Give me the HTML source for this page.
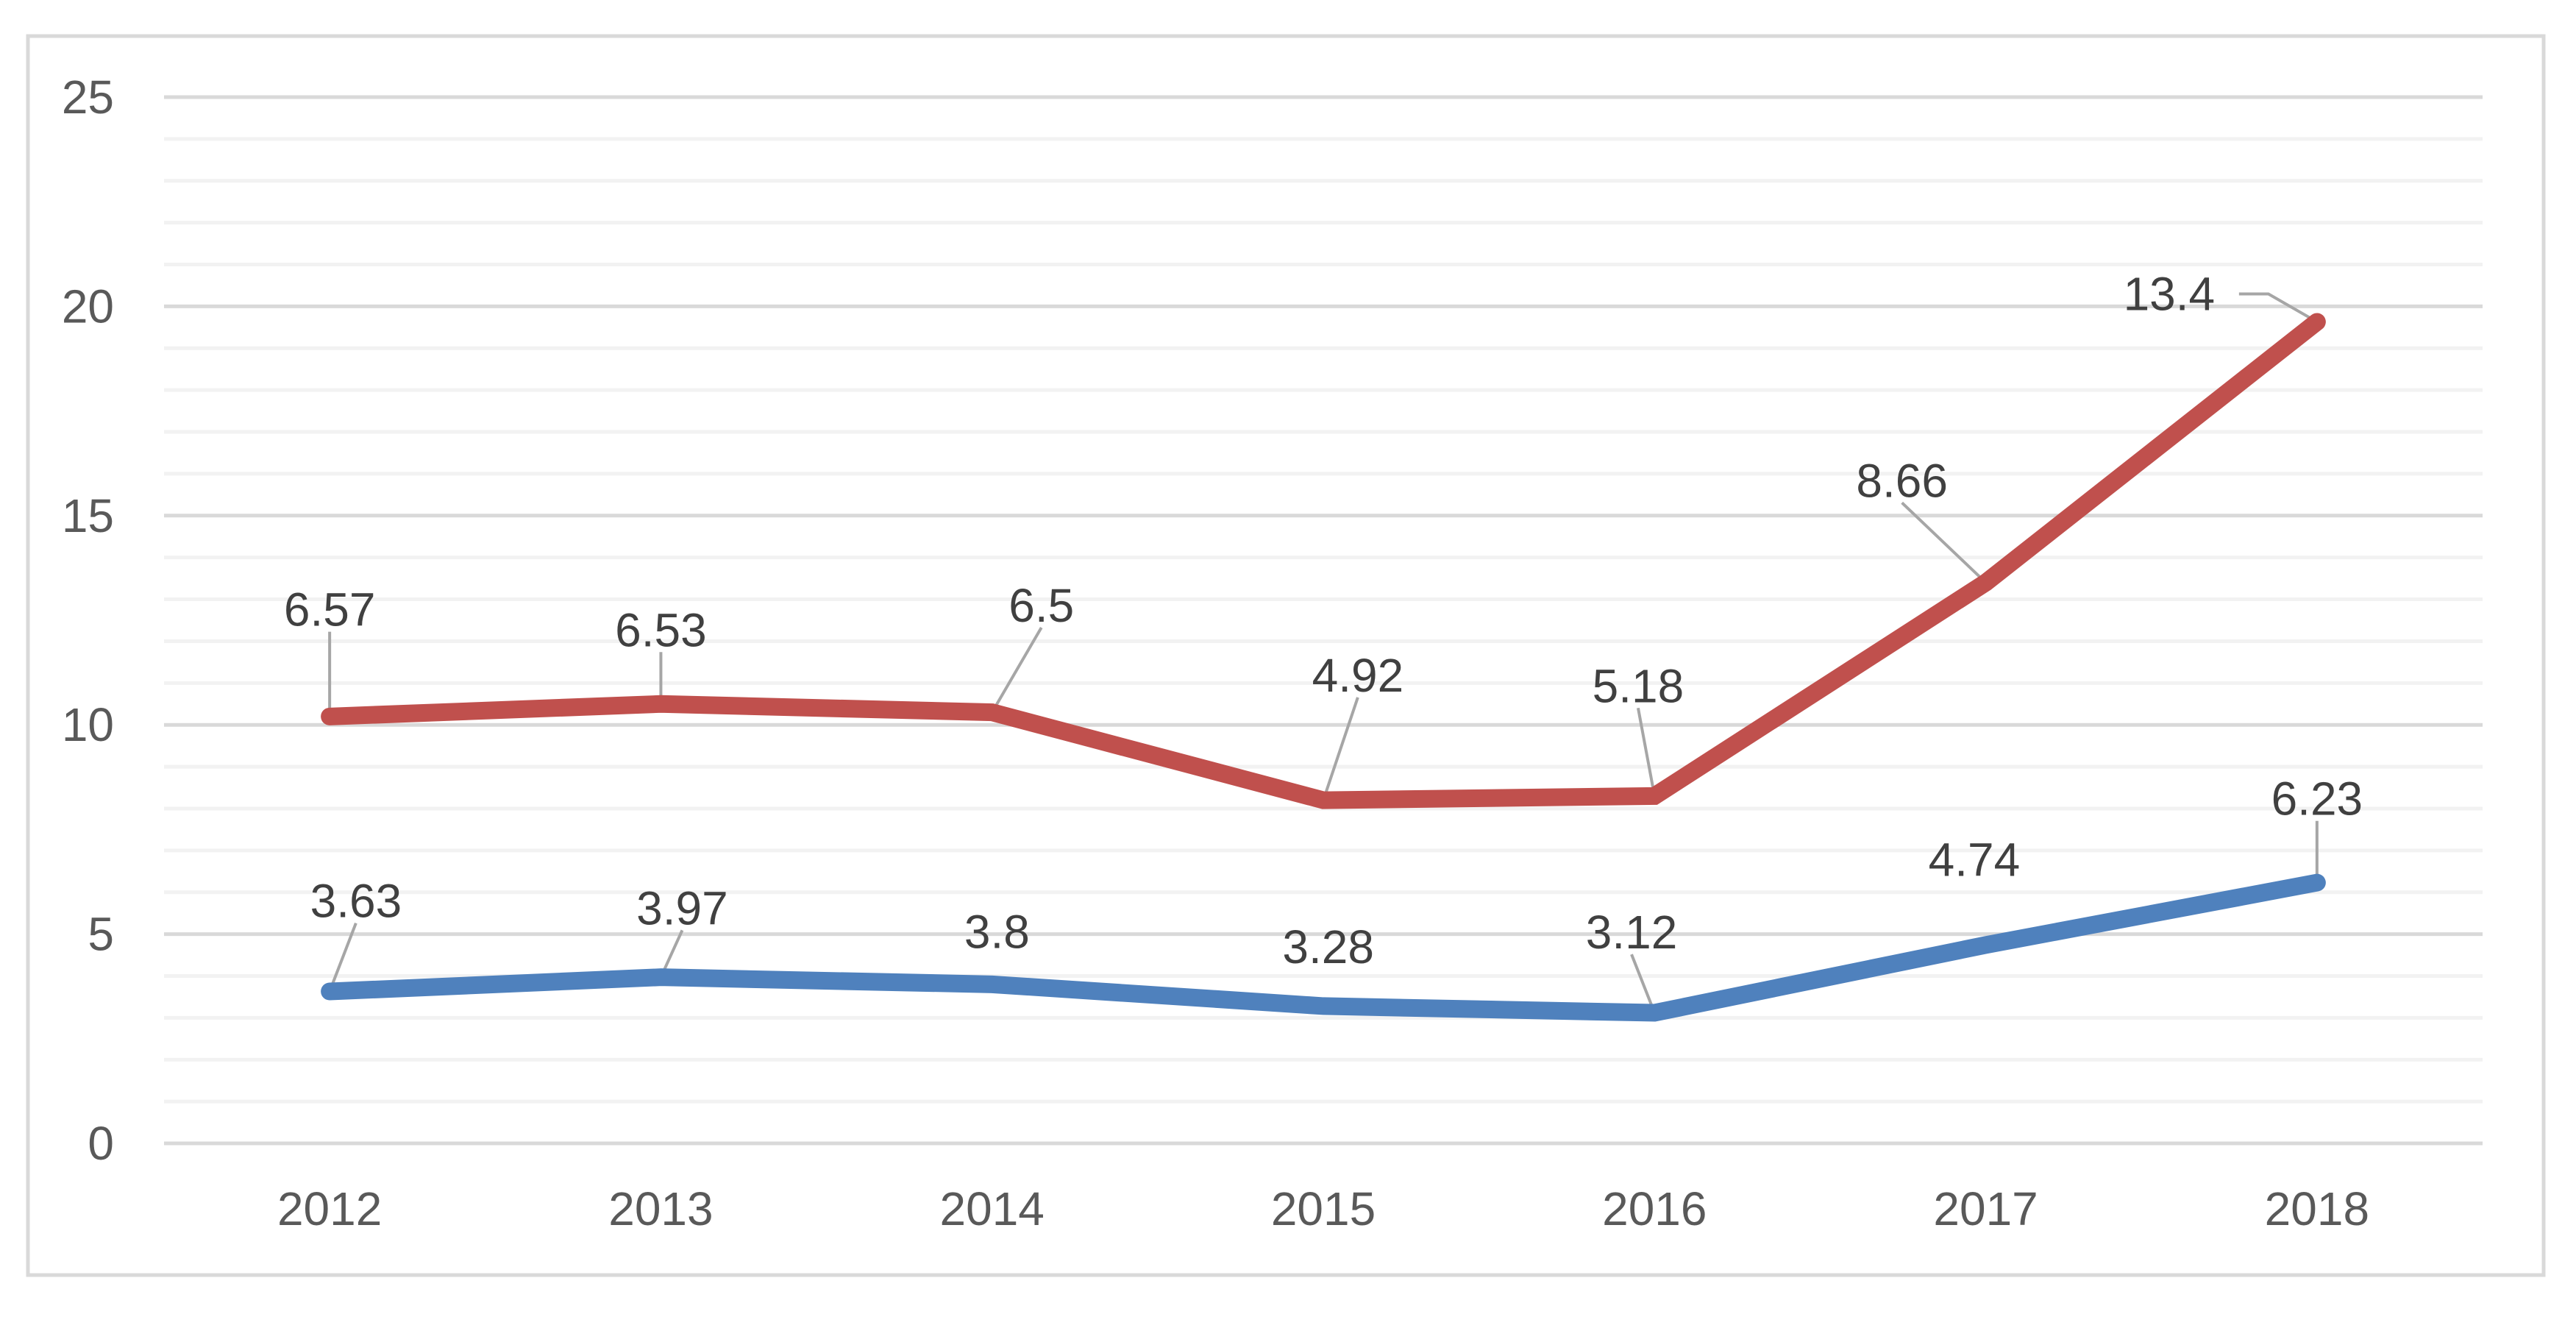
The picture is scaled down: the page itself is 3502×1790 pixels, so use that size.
<!DOCTYPE html>
<html><head><meta charset="utf-8"><style>
html,body{margin:0;padding:0;background:#fff;}
svg{display:block;}
text{font-family:"Liberation Sans",sans-serif;}
</style></head><body>
<svg id="chart" width="3502" height="1790" viewBox="0 0 3502 1790" xmlns="http://www.w3.org/2000/svg">
<rect x="38" y="49" width="3420" height="1684" fill="#fff" stroke="#d9d9d9" stroke-width="5"/>
<g id="grid"></g><g id="axes"></g><g id="leaders"></g><g id="lines"></g><g id="labels"></g>
</svg>
<script>
const categories = ["2012","2013","2014","2015","2016","2017","2018"];
const seriesA = [3.63,3.97,3.8,3.28,3.12,4.74,6.23];
const seriesB = [6.57,6.53,6.5,4.92,5.18,8.66,13.4];
const yTicks = [0,5,10,15,20,25];
const S = 2.2334;
// label offsets (thumbnail px) relative to point: styling only
const offA = [[16,-55],[13,-42],[3,-32],[3,-36],[-14,-49],[-7,-52],[0,-51]];
const offB = [[0,-65],[0,-45],[30,-65],[21,-76],[-10,-67],[-51,-62],[-90,-17]];
const leadA = [true,true,false,false,true,false,true];
const leadB = [true,true,true,true,true,true,true];

const X0=223, X1=3375, Y0=1554, Y25=132;
const NS='http://www.w3.org/2000/svg';
function xScale(i){const w=(X1-X0)/categories.length;return X0+w*(i+0.5);}
function yScale(v){return Y0-(Y0-Y25)*v/25;}
function mk(tag,attrs,parent){const e=document.createElementNS(NS,tag);for(const k in attrs)e.setAttribute(k,attrs[k]);parent.appendChild(e);return e;}
const grid=document.getElementById('grid'),axes=document.getElementById('axes'),leaders=document.getElementById('leaders'),lines=document.getElementById('lines'),labels=document.getElementById('labels');
for(let v=0;v<=25;v++){
  const major=v%5===0;
  const l=mk('line',{x1:X0,x2:X1,y1:yScale(v),y2:yScale(v),stroke:major?'#d9d9d9':'#f2f2f2','stroke-width':major?5:5},grid);
  
  
}
yTicks.forEach(v=>{
  const t=mk('text',{x:155,y:yScale(v)+22,'text-anchor':'end','font-size':64,fill:'#595959'},axes);
  t.textContent=v;
  
  
});
categories.forEach((c,i)=>{
  const t=mk('text',{x:xScale(i),y:1665,'text-anchor':'middle','font-size':64,fill:'#595959'},axes);
  t.textContent=c;
  
  
});
const cumB=seriesB.map((v,i)=>v+seriesA[i]);
function drawSeries(vals,labelsVals,color,offs,leads,name){
  const pts=vals.map((v,i)=>[xScale(i),yScale(v)]);
  const p=mk('polyline',{points:pts.map(p=>p.join(',')).join(' '),fill:'none',stroke:color,'stroke-width':24,'stroke-linejoin':'miter','stroke-linecap':'round'},lines);
  
  
  pts.forEach((pt,i)=>{
    const lx=pt[0]+offs[i][0]*S, ly=pt[1]+offs[i][1]*S;
    if(leads[i]){
      let ex,ey;
      if(Math.abs(offs[i][1])<25){ex=lx+95;ey=ly;}else{ex=lx;ey=ly+30;}
      const pl = Math.abs(offs[i][1])<25 ? [[pt[0],pt[1]],[ex+40,ey],[ex,ey]] : [[pt[0],pt[1]],[ex,ey]];
      const ld=mk('polyline',{points:pl.map(q=>q.join(',')).join(' '),fill:'none',stroke:'#a6a6a6','stroke-width':4},leaders);
      
      
    }
    const t=mk('text',{x:lx,y:ly+22,'text-anchor':'middle','font-size':64,fill:'#404040'},labels);
    t.textContent=labelsVals[i];
    
    
  });
}
drawSeries(seriesA,seriesA,'#4F81BD',offA,leadA,'series-a');
drawSeries(cumB,seriesB,'#C0504D',offB,leadB,'series-b');
</script>
</body></html>
